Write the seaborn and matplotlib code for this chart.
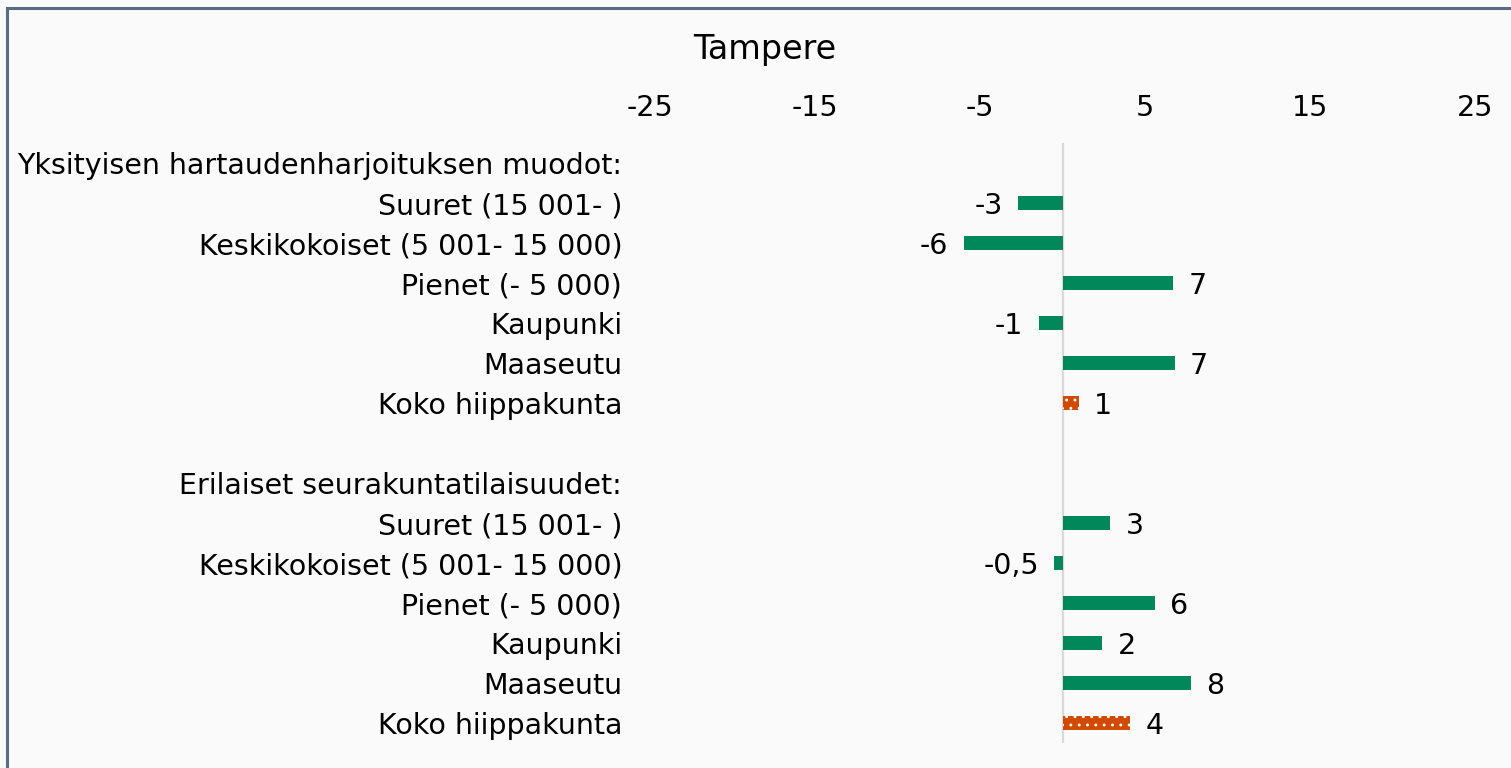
import matplotlib
matplotlib.use("Agg")
import matplotlib.pyplot as plt
import seaborn as sns
import pandas as pd
import numpy as np
from matplotlib.patches import Rectangle

# ---- data ----
row_labels = [
    "Yksityisen hartaudenharjoituksen muodot:",
    "Suuret (15 001- )",
    "Keskikokoiset (5 001- 15 000)",
    "Pienet (- 5 000)",
    "Kaupunki",
    "Maaseutu",
    "Koko hiippakunta",
    "",
    "Erilaiset seurakuntatilaisuudet:",
    "Suuret (15 001- )",
    "Keskikokoiset (5 001- 15 000)",
    "Pienet (- 5 000)",
    "Kaupunki",
    "Maaseutu",
    "Koko hiippakunta",
]
values = [np.nan, -2.7, -6.0, 6.7, -1.45, 6.8, 1.0,
          np.nan, np.nan, 2.9, -0.5, 5.6, 2.4, 7.8, 4.1]
value_labels = ["", "-3", "-6", "7", "-1", "7", "1",
                "", "", "3", "-0,5", "6", "2", "8", "4"]
kind = ["none", "part", "part", "part", "part", "part", "total",
        "none", "none", "part", "part", "part", "part", "part", "total"]
x_ticks = [-25, -15, -5, 5, 15, 25]
title = "Tampere"

GREEN = "#00875A"
ORANGE = "#D04A02"
BG = "#FAFAFA"
FS = 20.5

keys = [f"r{i:02d}" for i in range(len(row_labels))]
df = pd.DataFrame({"key": keys, "value": values, "kind": kind})
plot_df = df.dropna(subset=["value"])

sns.set_theme(style="white")
plt.rcParams["font.family"] = ["DejaVu Sans"]
plt.rcParams["hatch.linewidth"] = 0.9
plt.rcParams["text.color"] = "black"
plt.rcParams["xtick.color"] = "black"
plt.rcParams["ytick.color"] = "black"

fig = plt.figure(figsize=(15.11, 7.68), dpi=100, facecolor=BG)
# outer frame (extends past right/bottom edges)
fig.patches.append(Rectangle((7 / 1511, -0.05), 1.2, (768 - 8) / 768 + 0.05,
                             transform=fig.transFigure, fill=False,
                             edgecolor="#5B6B80", linewidth=2.2, zorder=0))

ax = fig.add_axes([650 / 1511, 25 / 768, 825 / 1511, 600 / 768])
ax.set_facecolor(BG)

sns.barplot(data=plot_df, y="key", x="value", hue="kind", order=keys,
            hue_order=["part", "total"],
            palette={"part": GREEN, "total": ORANGE}, saturation=1,
            orient="h", dodge=False, width=0.34, legend=False,
            linewidth=0, ax=ax, zorder=3)

for p in ax.patches:
    fc = matplotlib.colors.to_hex(p.get_facecolor())
    if fc.lower() == ORANGE.lower():
        p.set_hatch("..")
        p.set_edgecolor("white")
        p.set_linewidth(0)

ax.axvline(0, color="#D9D9D9", lw=1.6, zorder=2)

# data labels
for i, (v, lab) in enumerate(zip(values, value_labels)):
    if np.isnan(v) or lab == "":
        continue
    if v >= 0:
        ax.annotate(lab, (v, i), xytext=(11, -2), textcoords="offset points",
                    ha="left", va="center", fontsize=FS, color="black")
    else:
        ax.annotate(lab, (v, i), xytext=(-11, -2), textcoords="offset points",
                    ha="right", va="center", fontsize=FS, color="black")

ax.set_xlim(-25, 25)
ax.set_ylim(len(keys) - 0.5, -0.5)
ax.set_xticks(x_ticks)
ax.set_xticklabels([str(t) for t in x_ticks], fontsize=FS)
ax.xaxis.tick_top()
ax.tick_params(axis="x", length=0, pad=15)
ax.set_yticks(range(len(keys)))
ax.set_yticklabels(row_labels, fontsize=FS)
ax.tick_params(axis="y", length=0, pad=20)
ax.set_xlabel("")
ax.set_ylabel("")
for s in ax.spines.values():
    s.set_visible(False)
ax.grid(False)

fig.text(765 / 1511, 1 - 50 / 768, title, ha="center", va="center", fontsize=24)

fig.savefig("out.png", dpi=100, facecolor=BG)
